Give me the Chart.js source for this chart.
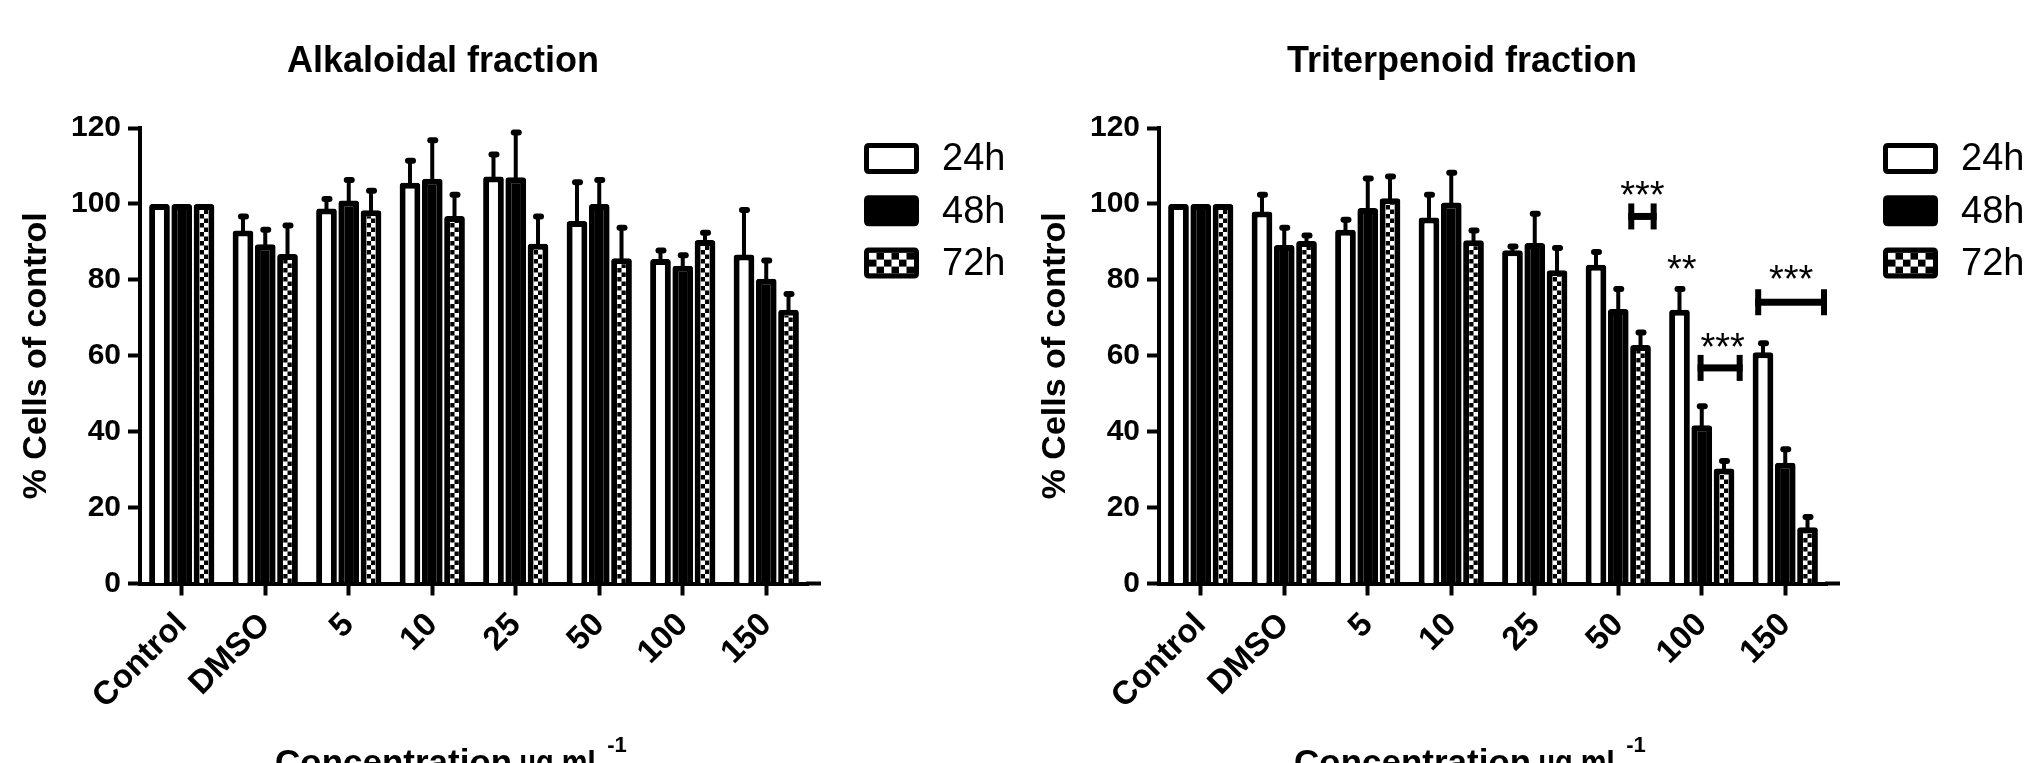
<!DOCTYPE html>
<html>
<head>
<meta charset="utf-8">
<title>Cell viability</title>
<script src="https://cdn.jsdelivr.net/npm/chart.js@4.4.1/dist/chart.umd.min.js"></script>
<style>
  html, body { margin: 0; padding: 0; background: #fff; }
  body { width: 2030px; height: 763px; position: relative; overflow: hidden; }
  .panel { position: absolute; top: 0; width: 1011px; height: 763px; }
  #leftPanel { left: 0; }
  #rightPanel { left: 1019px; }
</style>
</head>
<body>
<div class="panel" id="leftPanel"><canvas id="alkChart"></canvas></div>
<div class="panel" id="rightPanel"><canvas id="triChart"></canvas></div>
<script>
// categories / series
const categories = ['Control', 'DMSO', '5', '10', '25', '50', '100', '150'];
const seriesNames = ['24h', '48h', '72h'];
const yTicks = [0, 20, 40, 60, 80, 100, 120];

// Alkaloidal fraction (mean, upper error)
const alk24 = [100, 93.0, 98.8, 105.6, 107.2, 95.5, 85.5, 86.7];
const alk48 = [100, 89.4, 100.9, 106.6, 107.0, 100.0, 83.7, 80.3];
const alk72 = [100, 86.8, 98.3, 96.8, 89.5, 85.7, 90.5, 72.1];
const alk24Err = [0, 3.7, 2.5, 5.8, 5.8, 10.2, 2.2, 11.7];
const alk48Err = [0, 3.8, 5.4, 10.2, 11.8, 6.3, 2.8, 4.8];
const alk72Err = [0, 7.5, 5.2, 5.6, 7.2, 8.0, 1.9, 4.2];

// Triterpenoid fraction (mean, upper error)
const tri24 = [100, 98.0, 93.2, 96.4, 87.8, 84.0, 72.1, 60.9];
const tri48 = [100, 89.2, 98.9, 100.4, 89.7, 72.3, 41.7, 31.8];
const tri72 = [100, 90.2, 101.5, 90.4, 82.5, 62.8, 30.3, 14.8];
const tri24Err = [0, 4.4, 2.6, 6.0, 1.0, 3.3, 5.5, 2.4];
const tri48Err = [0, 4.5, 7.8, 7.8, 7.7, 5.3, 5.0, 3.6];
const tri72Err = [0, 1.5, 5.7, 2.6, 5.9, 3.3, 2.0, 2.7];

// significance marks on the triterpenoid panel (category position, value)
const triSigLabels = ['***', '**', '***', '***'];
const triSigX = [5.29, 5.76, 6.25, 7.07];
const triSigY = [104.6, 85.2, 64.7, 82.5];
const triBracketFrom = [5.12, null, 5.95, 6.64];
const triBracketTo = [5.46, null, 6.49, 7.50];
const triBracketY = [96.7, null, 56.8, 74.1];

const FONT = "'Liberation Sans', Arial, Helvetica, sans-serif";
Chart.defaults.font.family = FONT;
Chart.defaults.color = '#000';

function roundRect(ctx, x, y, w, h, r) {
  ctx.beginPath();
  ctx.moveTo(x + r, y);
  ctx.lineTo(x + w - r, y);
  ctx.quadraticCurveTo(x + w, y, x + w, y + r);
  ctx.lineTo(x + w, y + h - r);
  ctx.quadraticCurveTo(x + w, y + h, x + w - r, y + h);
  ctx.lineTo(x + r, y + h);
  ctx.quadraticCurveTo(x, y + h, x, y + h - r);
  ctx.lineTo(x, y + r);
  ctx.quadraticCurveTo(x, y, x + r, y);
  ctx.closePath();
}

function checker(ctx, x0, y0, x1, y1, cols, ch) {
  const cw = (x1 - x0) / cols;
  ctx.save();
  ctx.beginPath();
  ctx.rect(x0, y0, x1 - x0, y1 - y0);
  ctx.clip();
  ctx.fillStyle = '#fff';
  ctx.fillRect(x0, y0, x1 - x0, y1 - y0);
  ctx.fillStyle = '#000';
  let r = 0;
  for (let y = y1; y > y0; y -= ch, r++) {
    for (let c = 0; c < cols; c++) {
      if ((r + c) % 2 === 1) ctx.fillRect(x0 + c * cw, y - ch, cw, ch);
    }
  }
  ctx.restore();
}

// checker fill for 72h + upward error bars
const barExtras = {
  id: 'barExtras',
  afterDatasetsDraw(chart) {
    const ctx = chart.ctx;
    const ys = chart.scales.y;
    const bw = 6;
    chart.data.datasets.forEach((ds, i) => {
      if (!ds.checker) return;
      chart.getDatasetMeta(i).data.forEach(bar => {
        const p = bar.getProps(['x', 'y', 'base', 'width'], true);
        checker(ctx, p.x - p.width / 2 + bw, p.y + bw, p.x + p.width / 2 - bw, p.base, 2, 4.5);
      });
    });
    ctx.save();
    ctx.fillStyle = '#000';
    chart.data.datasets.forEach((ds, i) => {
      chart.getDatasetMeta(i).data.forEach((bar, j) => {
        const e = ds.errors[j];
        if (!e) return;
        const p = bar.getProps(['x', 'y'], true);
        const cap = ys.getPixelForValue(ds.data[j] + e);
        ctx.fillRect(p.x - 2, cap, 4, p.y - cap + 3);
        roundRect(ctx, p.x - 5, cap - 3, 11, 6, 3);
        ctx.fill();
      });
    });
    ctx.restore();
  }
};

// title, x title, legend, x-axis overhang
function decorations(titleText, sig) {
  return {
    id: 'decorations',
    afterDraw(chart) {
      const ctx = chart.ctx;
      const area = chart.chartArea;
      const xs = chart.scales.x, ys = chart.scales.y;
      ctx.save();
      ctx.fillStyle = '#000';

      // x axis runs a little past the last group
      ctx.fillRect(area.right - 2, area.bottom - 2, 15, 4);

      // title
      ctx.font = `bold 36px ${FONT}`;
      ctx.textAlign = 'center';
      ctx.textBaseline = 'alphabetic';
      ctx.fillText(titleText, 443, 72);

      // x axis title with superscript
      ctx.font = `bold 35px ${FONT}`;
      ctx.textAlign = 'left';
      ctx.fillText('Concentration', 275, 774);
      const w = ctx.measureText('Concentration').width;
      ctx.fillText('\u00b5g.mL', 275 + w + 7, 774, 86);
      ctx.font = `bold 22px ${FONT}`;
      ctx.fillText('-1', 275 + w + 7 + 88, 752);

      // legend
      seriesNames.forEach((name, i) => {
        const bx = area.right + 56, by = area.top + 15 + i * 52.3;
        roundRect(ctx, bx, by, 55, 31, 5);
        ctx.fillStyle = '#000';
        ctx.fill();
        if (i === 0) {
          ctx.fillStyle = '#fff';
          ctx.fillRect(bx + 5, by + 5, 45, 21);
        } else if (i === 2) {
          checker(ctx, bx + 5, by + 5, bx + 50, by + 26, 6, 7);
        }
        ctx.fillStyle = '#000';
        ctx.font = `38px ${FONT}`;
        ctx.textAlign = 'left';
        ctx.textBaseline = 'middle';
        ctx.fillText(name, bx + 78, by + 17);
      });

      // significance marks
      if (sig) {
        ctx.font = `38px ${FONT}`;
        ctx.textAlign = 'center';
        ctx.textBaseline = 'alphabetic';
        sig.labels.forEach((lab, k) => {
          ctx.fillText(lab, xs.getPixelForValue(sig.x[k]), ys.getPixelForValue(sig.y[k]) + 0.57 * 38);
          if (sig.from[k] === null) return;
          const x1 = xs.getPixelForValue(sig.from[k]);
          const x2 = xs.getPixelForValue(sig.to[k]);
          const yb = ys.getPixelForValue(sig.level[k]);
          ctx.fillRect(x1, yb - 3.5, x2 - x1, 7);
          ctx.fillRect(x1, yb - 13, 6, 26);
          ctx.fillRect(x2 - 6, yb - 13, 6, 26);
        });
      }
      ctx.restore();
    }
  };
}

function makeChart(id, titleText, d24, d48, d72, e24, e48, e72, sig) {
  const common = {
    borderColor: '#000',
    borderWidth: 6,
    borderRadius: { topLeft: 3, topRight: 3 },
    borderSkipped: 'start',
    categoryPercentage: 0.8,
    barPercentage: 0.93
  };
  return new Chart(document.getElementById(id), {
    type: 'bar',
    data: {
      labels: categories,
      datasets: [
        { ...common, label: seriesNames[0], data: d24, errors: e24, backgroundColor: '#fff' },
        { ...common, label: seriesNames[1], data: d48, errors: e48, backgroundColor: '#000' },
        { ...common, label: seriesNames[2], data: d72, errors: e72, backgroundColor: '#fff', checker: true }
      ]
    },
    options: {
      responsive: true,
      maintainAspectRatio: false,
      animation: false,
      devicePixelRatio: 1,
      layout: { padding: { left: 0, top: 128, right: 203, bottom: 0 } },
      plugins: { legend: { display: false }, tooltip: { enabled: false }, title: { display: false } },
      scales: {
        x: {
          offset: true,
          afterFit: s => { s.height = 179.5; },
          grid: { offset: false, drawOnChartArea: false, drawTicks: true, tickLength: 12, tickWidth: 4, tickColor: '#000' },
          border: { display: true, color: '#000', width: 4 },
          ticks: {
            color: '#000', autoSkip: false, minRotation: 45, maxRotation: 45, padding: 10,
            font: { family: FONT, size: 33, weight: 'bold' }
          }
        },
        y: {
          min: 0,
          max: 120,
          afterFit: s => { s.width = 140; },
          afterBuildTicks: s => { s.ticks = yTicks.map(v => ({ value: v })); },
          grid: { drawOnChartArea: false, drawTicks: true, tickLength: 12, tickWidth: 4, tickColor: '#000' },
          border: { display: true, color: '#000', width: 4 },
          ticks: { color: '#000', padding: 7, font: { family: FONT, size: 30, weight: 'bold' } },
          title: {
            display: true,
            text: '% Cells of control',
            color: '#000',
            font: { family: FONT, size: 34, weight: 'bold' },
            padding: { top: 16, bottom: 0 }
          }
        }
      }
    },
    plugins: [barExtras, decorations(titleText, sig)]
  });
}

makeChart('alkChart', 'Alkaloidal fraction', alk24, alk48, alk72, alk24Err, alk48Err, alk72Err, null);
makeChart('triChart', 'Triterpenoid fraction', tri24, tri48, tri72, tri24Err, tri48Err, tri72Err, {
  labels: triSigLabels, x: triSigX, y: triSigY,
  from: triBracketFrom, to: triBracketTo, level: triBracketY
});
</script>
</body>
</html>
